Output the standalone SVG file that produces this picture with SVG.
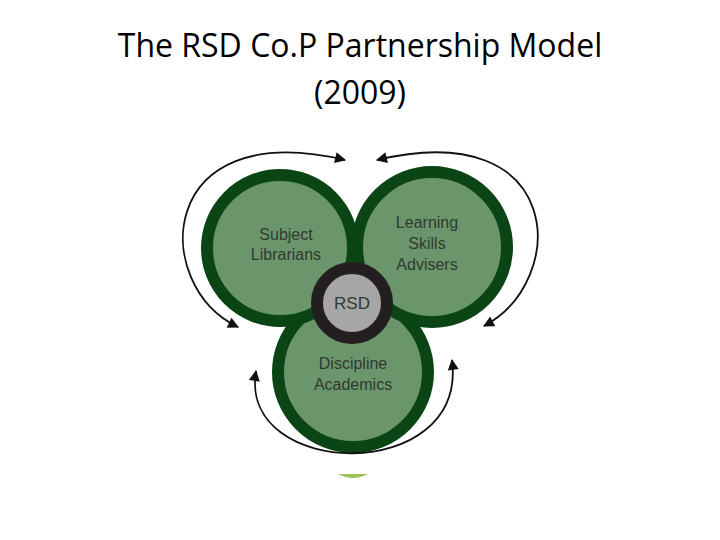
<svg xmlns="http://www.w3.org/2000/svg" width="720" height="540" viewBox="0 0 720 540">
<style>
.c{fill:#6b966c;stroke:#0b4516;stroke-width:12}
.t{font-family:"Liberation Sans",sans-serif;font-size:16px;fill:#2f3a30;text-anchor:middle}
.h{font-family:"Open Sans","Liberation Sans",sans-serif;font-size:32px;fill:#000;text-anchor:middle}
.a{fill:none;stroke:#111;stroke-width:1.8;marker-start:url(#m);marker-end:url(#m)}
</style>
<defs><marker id="m" viewBox="0 0 10 10" refX="9" refY="5" markerWidth="13" markerHeight="11" orient="auto-start-reverse" markerUnits="userSpaceOnUse"><path d="M0,0L10,5L0,10z" fill="#111"/></marker></defs>
<rect width="720" height="540" fill="#fff"/>
<text class="h" x="360" y="57">The RSD Co.P Partnership Model</text>
<text class="h" x="360" y="104">(2009)</text>
<path d="M338 474 Q353 482 368 474 Z" fill="#9cc25a"/>
<g id="bottom"><circle class="c" cx="353" cy="372" r="75"/><text class="t" x="353" y="369">Discipline</text><text class="t" x="353" y="390">Academics</text></g>
<g id="left"><circle class="c" cx="280" cy="248" r="73"/><text class="t" x="286" y="240">Subject</text><text class="t" x="286" y="260">Librarians</text></g>
<g id="right"><circle class="c" cx="432" cy="247" r="75"/><text class="t" x="427" y="228">Learning</text><text class="t" x="427" y="249">Skills</text><text class="t" x="427" y="270">Advisers</text></g>
<g id="rsd"><circle cx="352" cy="303" r="35" fill="#a6a6a6" stroke="#231f20" stroke-width="12"/><text class="t" x="352" y="309" style="font-size:17px">RSD</text></g>
<g id="connectors">
<path class="a" d="M238 327 C150 285 155 115 345 160"/>
<path class="a" d="M377 160 C565 115 570 280 484 326"/>
<path class="a" d="M256 371 C238 480 468 485 452 360"/>
</g>
</svg>
